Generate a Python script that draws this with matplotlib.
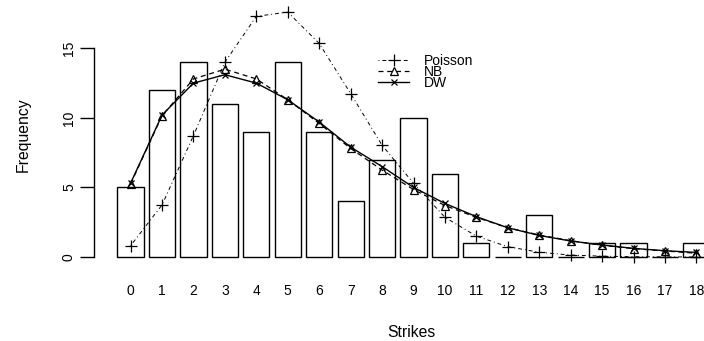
import numpy as np
import matplotlib
matplotlib.use("Agg")
import matplotlib.pyplot as plt

plt.rcParams['font.family'] = ['Liberation Sans', 'DejaVu Sans']

# observed counts per number of strikes
strikes = [str(i) for i in range(19)]
observed = [5, 12, 14, 11, 9, 14, 9, 4, 7, 10, 6, 1, 0, 3, 0, 1, 1, 0, 1]

# fitted frequencies
poisson = [0.81, 3.74, 8.72, 14.0, 17.3, 17.6, 15.35, 11.75, 8.03, 5.3, 2.85,
           1.5, 0.74, 0.34, 0.14, 0.06, 0.02, 0.01, 0.0]
nb = [5.25, 10.15, 12.8, 13.5, 12.8, 11.3, 9.6, 7.8, 6.25, 4.85, 3.7,
      2.85, 2.1, 1.58, 1.17, 0.85, 0.6, 0.43, 0.27]
dw = [5.3, 10.2, 12.5, 13.1, 12.5, 11.3, 9.7, 7.9, 6.5, 5.0, 3.85,
      2.9, 2.1, 1.55, 1.15, 0.86, 0.62, 0.45, 0.33]

fig = plt.figure(figsize=(7.04, 3.41), dpi=100)
# plot region runs past the right edge, like the cropped original
ax = fig.add_axes([94 / 704, 74.2 / 341, 633.8 / 704, 264.4 / 341])

# barplot positions as in R (width 1, space 0.2)
x = 0.7 + 1.2 * np.arange(len(observed))
ax.bar(x, observed, width=1.0, color='white', edgecolor='black', linewidth=1.0)

ax.plot(x, poisson, color='black', linestyle=(0, (1, 3, 4, 3)), linewidth=0.7,
        marker='+', markersize=8, markeredgewidth=0.9, label='Poisson')
ax.plot(x, nb, color='black', linestyle=(0, (4, 3)), linewidth=0.9,
        marker='^', markersize=6, markerfacecolor='none', markeredgewidth=0.9,
        label='NB')
ax.plot(x, dw, color='black', linestyle='-', linewidth=1.0,
        marker='x', markersize=5, markeredgewidth=0.9, label='DW')

ax.set_xlim(-0.696, 23.496)
ax.set_ylim(-0.704, 18.3)

for s in ['top', 'right', 'bottom']:
    ax.spines[s].set_visible(False)
ax.spines['left'].set_bounds(0, 15)
ax.spines['left'].set_linewidth(1.0)

ax.set_yticks([0, 5, 10, 15])
ax.tick_params(axis='y', length=10, width=1.0, pad=3, labelsize=10,
               labelrotation=90)
for t in ax.get_yticklabels():
    t.set_va('center')
ax.set_xticks(x, strikes)
ax.tick_params(axis='x', length=0, pad=12.5, labelsize=10)

ax.set_xlabel('Strikes', fontsize=11.3, labelpad=19)
ax.set_ylabel('Frequency', fontsize=11.3, labelpad=22.5)

ax.legend(loc='upper left', bbox_to_anchor=(0.4375, 0.832), frameon=False,
          fontsize=10, handlelength=2.23, handletextpad=1.08,
          labelspacing=-0.2, numpoints=1, borderpad=0)

fig.savefig('out.png', dpi=100)
